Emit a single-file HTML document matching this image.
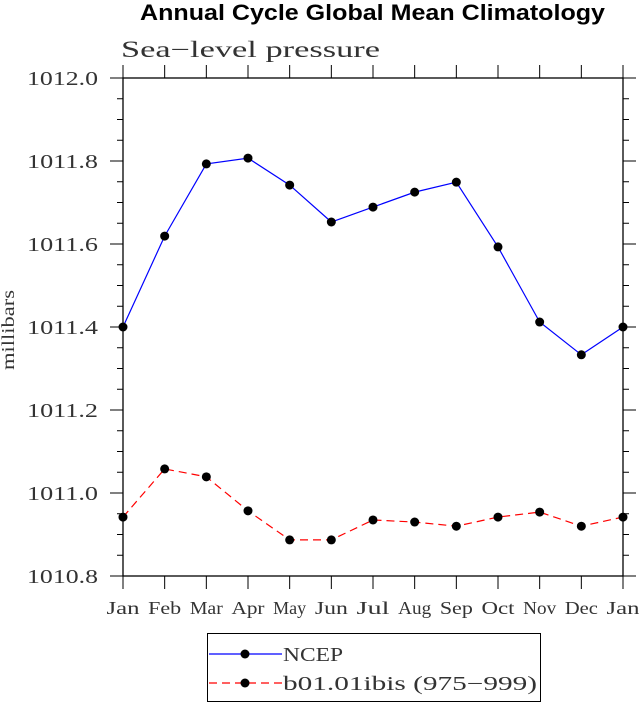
<!DOCTYPE html>
<html><head><meta charset="utf-8"><style>
body{margin:0;background:#fff;width:639px;height:702px;overflow:hidden}
text{font-family:"Liberation Serif",serif;fill:#333}
</style></head><body>
<svg id="chart" width="639" height="702" xmlns="http://www.w3.org/2000/svg">
<text x="140" y="20" textLength="465" lengthAdjust="spacingAndGlyphs" style="font-family:'Liberation Sans',sans-serif;font-weight:bold;font-size:22px;fill:#000">Annual Cycle Global Mean Climatology</text>
<text x="121" y="57" textLength="259" lengthAdjust="spacingAndGlyphs" style="font-size:23px">Sea−level pressure</text>
<text transform="translate(14,370) rotate(-90)" textLength="80" lengthAdjust="spacingAndGlyphs" style="font-size:18px">millibars</text>
<g id="axes"></g>
<g id="series"></g>
<rect x="207.5" y="633.5" width="333" height="68" fill="none" stroke="#000" stroke-width="1"/>
<g>
<line x1="209" y1="654" x2="282" y2="654" stroke="#0000ff" stroke-width="1.2"/>
<circle cx="245" cy="654" r="4.5" fill="#000"/>
<text x="283" y="661" textLength="60" lengthAdjust="spacingAndGlyphs" style="font-size:20px">NCEP</text></g>
<g>
<line x1="209" y1="683" x2="282" y2="683" stroke="#ff0000" stroke-width="1.2" stroke-dasharray="8,5"/>
<circle cx="245" cy="683" r="4.5" fill="#000"/>
<text x="283" y="690" textLength="254" lengthAdjust="spacingAndGlyphs" style="font-size:20px">b01.01ibis (975−999)</text></g>
</svg>
<script>
const months=["Jan","Feb","Mar","Apr","May","Jun","Jul","Aug","Sep","Oct","Nov","Dec","Jan"];
const ncep=[1011.400,1011.619,1011.793,1011.807,1011.742,1011.653,1011.689,1011.725,1011.749,1011.593,1011.412,1011.333,1011.400];
const b01=[1010.942,1011.058,1011.039,1010.957,1010.887,1010.887,1010.935,1010.930,1010.920,1010.942,1010.954,1010.920,1010.942];
const yTicks=[1010.8,1011.0,1011.2,1011.4,1011.6,1011.8,1012.0];
const yTickLabels=["1010.8","1011.0","1011.2","1011.4","1011.6","1011.8","1012.0"];
const NS="http://www.w3.org/2000/svg";
const L=123,R=623,T=78,B=576,ymin=1010.8,ymax=1012.0;
const xs=i=>L+(R-L)*i/(months.length-1);
const ys=v=>B-(v-ymin)/(ymax-ymin)*(B-T);
function mk(tag,attrs,parent){const e=document.createElementNS(NS,tag);for(const k in attrs)e.setAttribute(k,attrs[k]);parent.appendChild(e);return e;}
const ax=document.getElementById('axes');
const frame=mk('rect',{x:L,y:T,width:R-L,height:B-T,fill:'none',stroke:'#000','stroke-width':1.3},ax);


months.forEach((m,i)=>{
 const x=xs(i);
 mk('line',{x1:x,y1:B,x2:x,y2:B+13,stroke:'#000','stroke-width':1},ax);
 mk('line',{x1:x,y1:T,x2:x,y2:T-13,stroke:'#000','stroke-width':1},ax);
 const t=mk('text',{x:x,y:B+38,'text-anchor':'middle','font-size':'18',textLength:33,lengthAdjust:'spacingAndGlyphs'},ax);
 t.textContent=m;
 
 
});
yTicks.forEach((v,i)=>{
 const y=ys(v);
 mk('line',{x1:L-13,y1:y,x2:L,y2:y,stroke:'#000','stroke-width':1},ax);
 mk('line',{x1:R,y1:y,x2:R+13,y2:y,stroke:'#000','stroke-width':1},ax);
 const t=mk('text',{x:27,y:y+7,'font-size':'20',textLength:71,lengthAdjust:'spacingAndGlyphs'},ax);
 t.textContent=yTickLabels[i];
 
 
 if(i<yTicks.length-1){for(let k=1;k<4;k++){const ym=ys(v+0.05*k);
  mk('line',{x1:L-6,y1:ym,x2:L,y2:ym,stroke:'#000','stroke-width':1},ax);
  mk('line',{x1:R,y1:ym,x2:R+6,y2:ym,stroke:'#000','stroke-width':1},ax);}}
});
const sg=document.getElementById('series');
function draw(vals,color,dash,name){
 const p=mk('polyline',{points:vals.map((v,i)=>xs(i)+','+ys(v)).join(' '),fill:'none',stroke:color,'stroke-width':1.2,'stroke-dasharray':dash},sg);
 
 
 vals.forEach((v,i)=>{const c=mk('circle',{cx:xs(i),cy:ys(v),r:4.5,fill:'#000'},sg);
  
  });
}
draw(ncep,'#0000ff','none','ncep');
draw(b01,'#ff0000','8,5','b01');
</script>
</body></html>
